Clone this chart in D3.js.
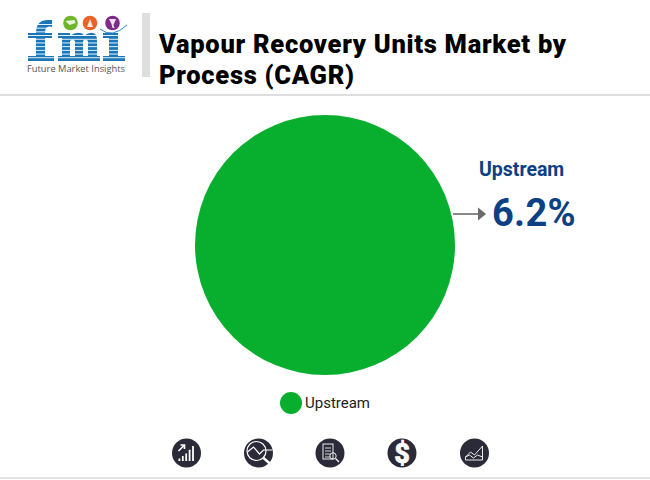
<!DOCTYPE html>
<html>
<head>
<meta charset="utf-8">
<script src="https://d3js.org/d3.v7.min.js"></script>
<style>
  html, body { margin: 0; padding: 0; background: #fff; overflow: hidden; }
  svg { display: block; font-family: Roboto, sans-serif; }
</style>
</head>
<body>
<svg id="chart" width="650" height="480"></svg>
<script>
  "use strict";
  const WIDTH = 650;
  const HEIGHT = 480;

  // data
  const categories = ["Upstream"];
  const shares = [100];
  const cagrLabels = ["6.2%"];
  const sliceColors = ["#08AE2D"];
  const titleLines = ["Vapour Recovery Units Market by", "Process (CAGR)"];

  const PIE_X = 325;
  const PIE_Y = 245;
  const PIE_R = 130;
  const BLUE = "#0B4183";
  const ICON_DARK = "#2A2A38";

  const svg = d3.select("#chart");

  // Header and footer rules
  svg.append("rect").attr("x", 0).attr("y", 94).attr("width", WIDTH).attr("height", 2).attr("fill", "#dedede");
  svg.append("rect").attr("x", 0).attr("y", 477).attr("width", WIDTH).attr("height", 2).attr("fill", "#e4e4e4");
  svg.append("rect").attr("x", 142).attr("y", 13).attr("width", 8).attr("height", 64).attr("fill", "#dedede");

  // Title
  svg.selectAll(".title")
    .data(titleLines)
    .enter()
    .append("text")
    .attr("class", "title")
    .attr("x", 159)
    .attr("y", (d, i) => 53 + i * 31)
    .attr("font-size", 25.5)
    .attr("font-weight", 900)
    .attr("letter-spacing", 0.72)
    .attr("fill", "#000")
    .text(d => d);

  // Logo: blocky fmi letters with white stripes over them
  const logo = svg.append("g").attr("id", "logo");
  logo.append("path")
    .attr("d", [
      // f
      "M36 33 Q36 20 48 20 H52 V27 Q45 25 45 33 V56 H54 V61 H28 V56 H36 V38 H28 V33 Z",
      "M45 33 H52 V38 H45 Z",
      // m
      "M58 33 H70 V36 Q75 32 80 33 Q83 33 84 36 Q89 32 93 33 Q97 34 97 40 V56 H100 V61 H85 V56 H88 V41 Q85 38 83 41 V56 H86 V61 H72 V56 H75 V41 Q72 38 70 41 V56 H73 V61 H58 V56 H62 V38 H58 Z",
      // i
      "M103 33 H118 V56 H125 V61 H103 V56 H109 V38 H103 Z"
    ].join(" "))
    .attr("fill", "#1B76B8");
  logo.selectAll(".stripe")
    .data(d3.range(24, 62, 3.7))
    .enter()
    .append("rect")
    .attr("class", "stripe")
    .attr("x", 25)
    .attr("y", d => d)
    .attr("width", 104)
    .attr("height", 0.9)
    .attr("fill", "#fff");

  const logoDots = [[70.5, 23, "#6FB52C"], [90, 23, "#E8622A"], [112.5, 23, "#7F2A8A"]];
  logo.selectAll("circle")
    .data(logoDots)
    .enter()
    .append("circle")
    .attr("cx", d => d[0])
    .attr("cy", d => d[1])
    .attr("r", 7.3)
    .attr("fill", d => d[2]);
  logo.append("path")
    .attr("d", "M65.5 21 l9 -1 l1 3 l-6 2 z M87 27 l3 -8 l3 8 z M109 19 h7 l-2.5 6 l1 3 h-2 l-1 -4 z")
    .attr("fill", "#fff")
    .attr("opacity", 0.85);
  logo.append("path")
    .attr("d", "M100 29 Q112 39 127 25")
    .attr("fill", "none")
    .attr("stroke", "#2F86C6")
    .attr("stroke-width", 1);
  logo.append("text")
    .attr("x", 27).attr("y", 72)
    .attr("font-family", "'Open Sans', sans-serif")
    .attr("font-size", 8.4)
    .attr("textLength", 98)
    .attr("lengthAdjust", "spacingAndGlyphs")
    .attr("fill", "#555")
    .text("Future Market Insights");

  // Pie
  const pie = d3.pie().sort(null);
  const arc = d3.arc().innerRadius(0).outerRadius(PIE_R);
  svg.append("g")
    .attr("transform", `translate(${PIE_X},${PIE_Y})`)
    .selectAll("path")
    .data(pie(shares))
    .enter()
    .append("path")
    .attr("d", arc)
    .attr("fill", (d, i) => sliceColors[i]);

  // Callout
  svg.append("line")
    .attr("x1", 453).attr("y1", 214)
    .attr("x2", 479).attr("y2", 214)
    .attr("stroke", "#6b6b6b")
    .attr("stroke-width", 1.6);
  svg.append("path")
    .attr("d", "M478 207.5 L486 214 L478 220.5 Z")
    .attr("fill", "#6b6b6b");
  svg.append("text")
    .attr("x", 479).attr("y", 176)
    .attr("font-size", 19.5)
    .attr("font-weight", 700)
    .attr("fill", BLUE)
    .text(categories[0]);
  svg.append("text")
    .attr("x", 492).attr("y", 226)
    .attr("font-size", 38)
    .attr("font-weight", 700)
    .attr("letter-spacing", 0.3)
    .attr("fill", BLUE)
    .text(cagrLabels[0]);

  // Legend
  svg.append("circle")
    .attr("cx", 291).attr("cy", 403).attr("r", 11)
    .attr("fill", sliceColors[0]);
  svg.append("text")
    .attr("x", 305).attr("y", 408)
    .attr("font-size", 15)
    .attr("fill", "#222")
    .text(categories[0]);

  // Footer icons
  const iconX = [186.5, 258.5, 330, 402, 474.5];
  const icons = svg.selectAll(".icon")
    .data(iconX)
    .enter()
    .append("g")
    .attr("class", "icon")
    .attr("transform", d => `translate(${d},453)`);
  icons.append("circle").attr("r", 14.5).attr("fill", ICON_DARK);

  const thin = g => g.attr("fill", "none").attr("stroke", "#fff").attr("stroke-width", 1.2);

  // bars + arrow
  const icon0 = d3.select(icons.nodes()[0]);
  icon0.selectAll("rect")
    .data([2, 4, 6, 9, 12])
    .enter()
    .append("rect")
    .attr("x", (d, i) => -8 + i * 3.4)
    .attr("y", d => 8 - d * 1.25)
    .attr("width", 1.8)
    .attr("height", d => d * 1.25)
    .attr("fill", "#fff");
  icon0.append("path").attr("d", "M-8 -2 L-2 -8 M-6 -8 H-2 V-4").call(thin).attr("stroke-width", 1.6);

  // magnifier with trend
  const icon1 = d3.select(icons.nodes()[1]);
  icon1.append("circle").attr("cx", -2).attr("cy", -2).attr("r", 9.5).call(thin);
  icon1.append("path").attr("d", "M-11 -1 L-5 -6 L1 1 L5 -3 H14").call(thin);
  icon1.append("path").attr("d", "M5 5 L13 12").call(thin).attr("stroke-width", 2.4);

  // document
  const icon2 = d3.select(icons.nodes()[2]);
  icon2.append("rect").attr("x", -7).attr("y", -9).attr("width", 10).attr("height", 15).call(thin).attr("stroke-width", 0.9);
  icon2.append("path").attr("d", "M-5 -5 H1 M-5 -2 H1 M-5 1 H0 M-5 4 H0").call(thin).attr("stroke-width", 0.8);
  icon2.append("circle").attr("cx", 3).attr("cy", 3).attr("r", 3.2).call(thin).attr("stroke-width", 0.9);
  icon2.append("path").attr("d", "M5.5 5.5 L9 9").call(thin);

  // dollar
  d3.select(icons.nodes()[3]).append("text")
    .attr("text-anchor", "middle")
    .attr("y", 9.5)
    .attr("font-size", 27)
    .attr("font-weight", 900)
    .attr("fill", "#fff")
    .attr("stroke", "#fff")
    .attr("stroke-width", 0.6)
    .text("$");

  // area chart
  const icon4 = d3.select(icons.nodes()[4]);
  icon4.append("path").attr("d", "M-9 4 L-4 -1 L0 2 L8 -7 V7 H-9 Z").call(thin).attr("stroke-width", 0.9);
  icon4.append("path").attr("d", "M-9 4 L-5 2 L-1 5 L3 2 L8 4").call(thin).attr("stroke-width", 0.9);
</script>
</body>
</html>
